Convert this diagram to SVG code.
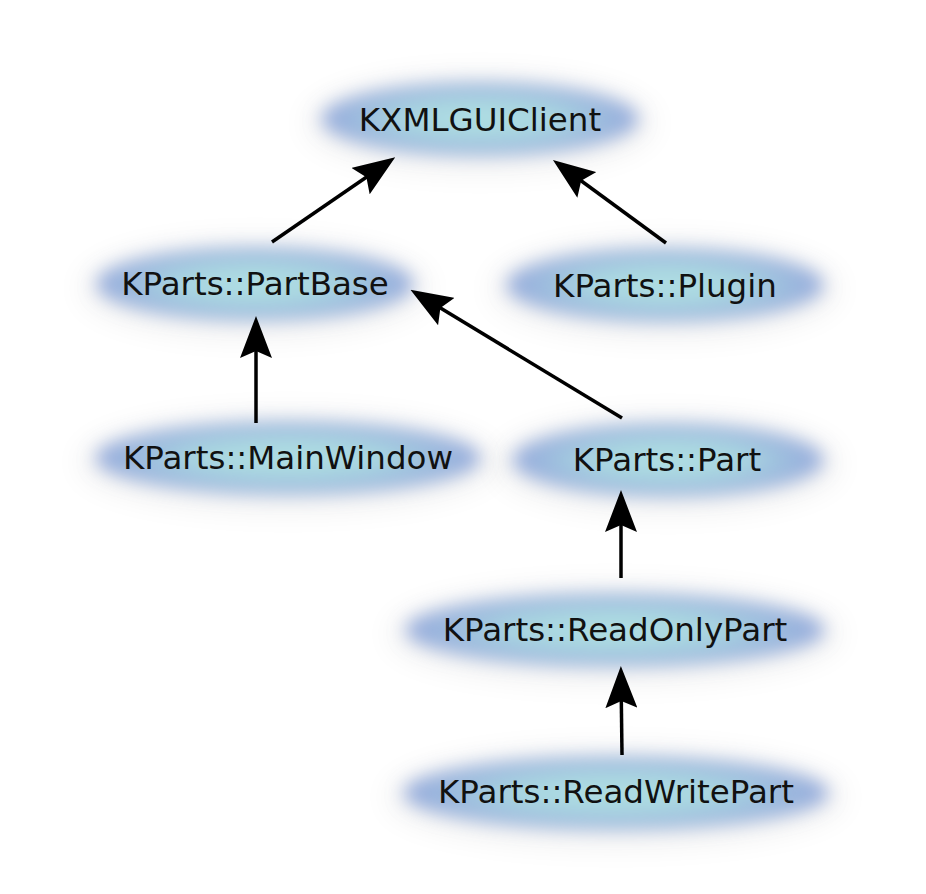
<svg xmlns="http://www.w3.org/2000/svg" width="926" height="894" viewBox="0 0 926 894">
  <defs>
    <radialGradient id="nodeFill" cx="50%" cy="50%" r="50%">
      <stop offset="0" stop-color="#b0dfe2"/>
      <stop offset="0.5" stop-color="#a9d6e1"/>
      <stop offset="1" stop-color="#94a9dc"/>
    </radialGradient>
    <filter id="soft" x="-30%" y="-80%" width="160%" height="260%">
      <feGaussianBlur stdDeviation="9"/>
    </filter>
    <filter id="halo" x="-30%" y="-80%" width="160%" height="260%">
      <feGaussianBlur stdDeviation="16"/>
    </filter>
    <marker id="arrow" viewBox="0 0 42 32" refX="32" refY="16" markerWidth="42" markerHeight="32" markerUnits="userSpaceOnUse" orient="auto">
      <path d="M0,0 L42,16 L0,32 L7,16 Z" fill="#000"/>
    </marker>
  </defs>
  <style>
    .halo { fill: #000; opacity: 0.07; filter: url(#halo); }
    .body { fill: url(#nodeFill); filter: url(#soft); }
    .label { font-family: "DejaVu Sans", "Liberation Sans", sans-serif; font-size: 32.5px; fill: #111; text-anchor: middle; }
    .edge { stroke: #000; stroke-width: 3.5; fill: none; marker-end: url(#arrow); }
  </style>
  <rect width="926" height="894" fill="#fff"/>

  <g id="KXMLGUIClient">
    <ellipse class="halo" cx="480" cy="123" rx="172" ry="46"/>
    <ellipse class="body" cx="480" cy="119" rx="158" ry="36"/>
    <text class="label" x="480" y="131">KXMLGUIClient</text>
  </g>
  <g id="PartBase">
    <ellipse class="halo" cx="255" cy="288" rx="172" ry="46"/>
    <ellipse class="body" cx="255" cy="284" rx="158" ry="36"/>
    <text class="label" x="255" y="295">KParts::PartBase</text>
  </g>
  <g id="Plugin">
    <ellipse class="halo" cx="665" cy="289" rx="172" ry="46"/>
    <ellipse class="body" cx="665" cy="285" rx="158" ry="36"/>
    <text class="label" x="665" y="297">KParts::Plugin</text>
  </g>
  <g id="MainWindow">
    <ellipse class="halo" cx="288" cy="462" rx="207" ry="46"/>
    <ellipse class="body" cx="288" cy="458" rx="192" ry="36"/>
    <text class="label" x="288" y="469">KParts::MainWindow</text>
  </g>
  <g id="Part">
    <ellipse class="halo" cx="668" cy="464" rx="170" ry="46"/>
    <ellipse class="body" cx="668" cy="460" rx="155" ry="36"/>
    <text class="label" x="667" y="471">KParts::Part</text>
  </g>
  <g id="ReadOnlyPart">
    <ellipse class="halo" cx="615" cy="634" rx="224" ry="46"/>
    <ellipse class="body" cx="615" cy="630" rx="209" ry="36"/>
    <text class="label" x="615" y="641">KParts::ReadOnlyPart</text>
  </g>
  <g id="ReadWritePart">
    <ellipse class="halo" cx="616" cy="797" rx="227" ry="46"/>
    <ellipse class="body" cx="616" cy="793" rx="212" ry="36"/>
    <text class="label" x="616" y="803">KParts::ReadWritePart</text>
  </g>

  <g id="connectors">
    <path class="edge" d="M272,242 L387,163"/>
    <path class="edge" d="M666,243 L561,166"/>
    <path class="edge" d="M256,423 L256,326"/>
    <path class="edge" d="M622,418 L419,295"/>
    <path class="edge" d="M621,578 L621,500"/>
    <path class="edge" d="M622,755 L621,676"/>
  </g>
</svg>
